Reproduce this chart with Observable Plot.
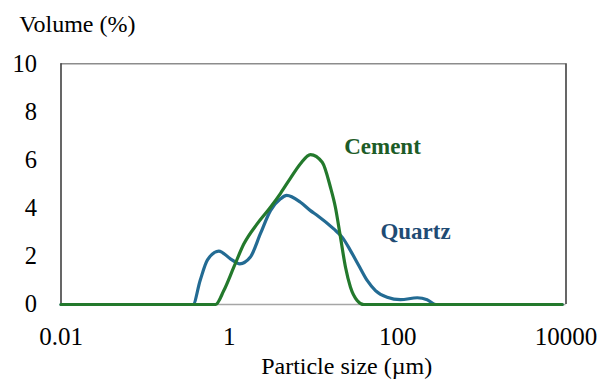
<!DOCTYPE html>
<html>
<head>
<meta charset="utf-8">
<script src="https://cdn.jsdelivr.net/npm/d3@7"></script>
<script src="https://cdn.jsdelivr.net/npm/@observablehq/plot@0.6"></script>
<style>
  html, body { margin: 0; padding: 0; background: #fff; }
  #chart { width: 602px; height: 380px; }
</style>
</head>
<body>
<div id="chart"></div>
<script>
// Particle size (µm) and volume (%) for each material
const quartzSize = [0.01, 0.37, 0.45, 0.55, 0.75, 1.03, 1.33, 1.78, 2.34, 3.08, 4.06, 4.8, 7.0, 9.2, 11.1, 17.4, 21.9, 27.5, 34.5, 43.4, 54.5, 75, 108, 171, 224, 285, 9000];
const quartzVolume = [0, 0, 1.0, 1.85, 2.22, 1.9, 1.69, 1.97, 2.94, 3.9, 4.39, 4.53, 4.25, 3.9, 3.7, 3.14, 2.8, 2.24, 1.62, 1.0, 0.58, 0.3, 0.2, 0.28, 0.2, 0, 0];
const cementSize = [0.01, 0.686, 0.86, 1.13, 1.49, 2.14, 3.08, 4.06, 5.33, 7.0, 9.2, 12.7, 15.9, 18.2, 20.9, 24.0, 27.5, 33, 39.6, 9000];
const cementVolume = [0, 0, 0.58, 1.55, 2.52, 3.35, 4.04, 4.62, 5.25, 5.85, 6.23, 5.91, 4.87, 4.04, 2.8, 1.55, 0.72, 0.17, 0, 0];

const xTicks = [0.01, 1, 100, 10000];
const yTicks = [0, 2, 4, 6, 8, 10];

const seriesNames = ["Quartz", "Cement"];
const lineColors = ["#236b93", "#23792c"];
const labelColors = ["#1f4b74", "#1d5c27"];
const labelSize = [163, 66];
const labelVolume = [3.03, 6.54];

const quartz = quartzSize.map((s, i) => ({size: s, volume: quartzVolume[i]}));
const cement = cementSize.map((s, i) => ({size: s, volume: cementVolume[i]}));
const labels = seriesNames.map((n, i) => ({name: n, size: labelSize[i], volume: labelVolume[i], color: labelColors[i]}));

const W = 602, H = 380;
const mL = 60.5, mR = 36.5, mT = 63.3, mB = 76;
const serif = "'Liberation Serif', 'Times New Roman', serif";

const plot = Plot.plot({
  width: W,
  height: H,
  marginLeft: mL,
  marginRight: mR,
  marginTop: mT,
  marginBottom: mB,
  style: {fontFamily: serif, background: "#fff", overflow: "visible"},
  x: {type: "log", domain: [0.01, 10000], ticks: xTicks, tickFormat: d => String(d)},
  y: {domain: [0, 10], ticks: yTicks},
  marks: [
    Plot.axisX(xTicks, {tickSize: 0, tickPadding: 23, fontSize: 25, label: null, fill: "#000", tickFormat: d => String(d)}),
    Plot.axisY(yTicks, {tickSize: 0, tickPadding: 24, fontSize: 24.5, label: null, fill: "#000"}),
    Plot.ruleY([10], {stroke: "#8c8c8c", strokeWidth: 1.6}),
    Plot.ruleY([0], {stroke: "#a6a6a6", strokeWidth: 1.6}),
    Plot.ruleX([0.01, 10000], {stroke: "#404040", strokeWidth: 1.6}),
    Plot.line(quartz, {x: "size", y: "volume", stroke: lineColors[0], strokeWidth: 3.2, curve: "monotone-x"}),
    Plot.line(cement, {x: "size", y: "volume", stroke: lineColors[1], strokeWidth: 3.2, curve: "monotone-x"}),
    Plot.text(labels, {x: "size", y: "volume", text: "name", fill: "color", fontSize: 23, fontWeight: "bold", textAnchor: "middle"})
  ]
});

const svg = d3.select(plot);
svg.append("text")
  .attr("x", 19.3).attr("y", 32)
  .attr("text-anchor", "start")
  .attr("font-family", serif).attr("font-size", 24)
  .attr("fill", "#000")
  .text("Volume (%)");
svg.append("text")
  .attr("x", 346.7).attr("y", 374)
  .attr("text-anchor", "middle")
  .attr("font-family", serif).attr("font-size", 24)
  .attr("fill", "#000")
  .text("Particle size (µm)");

document.getElementById("chart").appendChild(plot);
</script>
</body>
</html>
